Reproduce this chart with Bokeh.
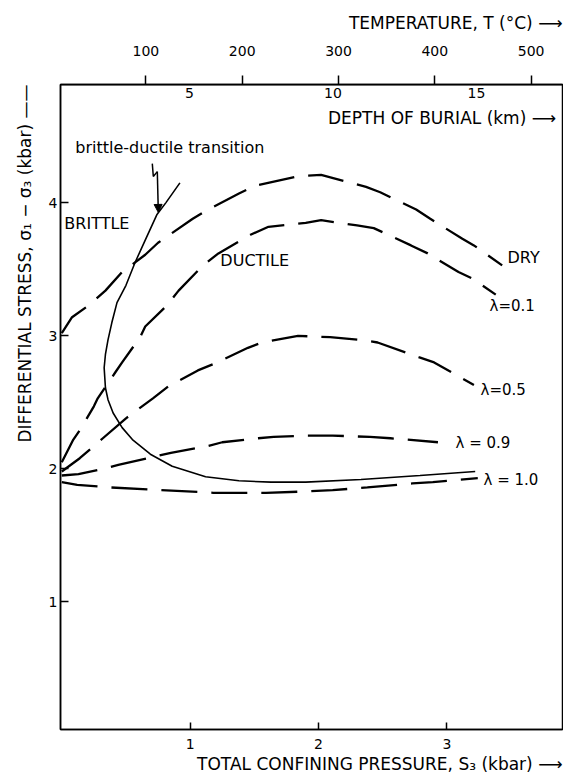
from bokeh.plotting import figure
from bokeh.models import (Range1d, LinearAxis, FixedTicker, Arrow, NormalHead,
                          Label, Title)
from bokeh.embed import file_html
from bokeh.resources import INLINE
from bokeh.core.properties import value

FONT = "DejaVu Sans"

# ---------------- data ----------------
pressure_ticks = [1, 2, 3]
stress_ticks = [1, 2, 3, 4]
temp_ticks = [100, 200, 300, 400, 500]
depth_ticks = [5, 10, 15]

dry_x = [0.0, 0.08, 0.21, 0.34, 0.47, 0.65, 0.75, 1.02, 1.12, 1.38, 1.51, 1.84, 2.02,
         2.37, 2.48, 2.76, 2.87, 3.12, 3.21, 3.43]
dry_y = [3.02, 3.14, 3.23, 3.34, 3.48, 3.61, 3.70, 3.88, 3.94, 4.07, 4.13, 4.20, 4.21,
         4.12, 4.08, 3.95, 3.88, 3.73, 3.68, 3.53]

l01_x = [0.0, 0.09, 0.14, 0.25, 0.28, 0.42, 0.47, 0.61, 0.65, 0.81, 0.91, 1.10, 1.22,
         1.47, 1.61, 1.90, 2.02, 2.30, 2.43, 2.72, 2.85, 3.09, 3.20, 3.38]
l01_y = [2.05, 2.22, 2.29, 2.47, 2.53, 2.73, 2.80, 2.99, 3.07, 3.22, 3.34, 3.53, 3.62,
         3.76, 3.82, 3.85, 3.87, 3.83, 3.81, 3.68, 3.62, 3.48, 3.43, 3.31]

l05_x = [0.0, 0.14, 0.32, 0.50, 0.71, 0.83, 1.06, 1.21, 1.45, 1.56, 1.84, 2.09, 2.33,
         2.46, 2.78, 2.90, 3.21]
l05_y = [1.98, 2.08, 2.23, 2.38, 2.53, 2.62, 2.74, 2.80, 2.91, 2.95, 3.00, 2.99, 2.97,
         2.95, 2.84, 2.80, 2.63]

l09_x = [0.0, 0.13, 0.32, 0.44, 0.67, 0.85, 1.13, 1.25, 1.53, 1.65, 1.90, 2.11, 2.40,
         2.56, 2.93]
l09_y = [1.95, 1.96, 2.00, 2.03, 2.08, 2.12, 2.17, 2.20, 2.23, 2.24, 2.25, 2.25, 2.24,
         2.23, 2.20]

l10_x = [0.0, 0.12, 0.38, 0.77, 1.18, 1.59, 1.90, 2.11, 2.38, 2.73, 2.89, 3.24]
l10_y = [1.90, 1.88, 1.86, 1.84, 1.82, 1.82, 1.83, 1.84, 1.86, 1.89, 1.90, 1.93]

trans_x = [0.92, 0.81, 0.74, 0.65, 0.57, 0.50, 0.43, 0.39, 0.36, 0.34, 0.33, 0.34, 0.36,
           0.40, 0.47, 0.55, 0.69, 0.86, 1.12, 1.38, 1.63, 1.90, 2.33, 2.79, 3.22]
trans_y = [4.15, 4.00, 3.91, 3.72, 3.55, 3.38, 3.25, 3.10, 2.97, 2.86, 2.76, 2.61, 2.52,
           2.42, 2.31, 2.22, 2.11, 2.02, 1.94, 1.91, 1.90, 1.90, 1.92, 1.95, 1.98]

# zig-zag pointer of the "brittle-ductile transition" label
zig_x = [0.705, 0.713, 0.744]
zig_y = [4.295, 4.198, 4.235]
arrow_end = (0.752, 3.928)

region_labels = ["BRITTLE", "DUCTILE", "DRY"]
region_x = [0.02, 1.235, 3.472]
region_y = [3.846, 3.568, 3.591]

lambda_labels = ["λ=0.1", "λ=0.5", "λ = 0.9", "λ = 1.0"]
lambda_x = [3.332, 3.262, 3.067, 3.285]
lambda_y = [3.223, 2.594, 2.196, 1.919]

note_label = ["brittle-ductile transition"]
note_x = [0.105]
note_y = [4.415]

# axis titles
title_temp = "TEMPERATURE, T (°C) ⟶"
title_depth = "DEPTH OF BURIAL (km) ⟶"
title_press = "TOTAL CONFINING PRESSURE, S₃ (kbar) ⟶"
title_stress = "DIFFERENTIAL STRESS, σ₁ − σ₃ (kbar) ——"

# ---------------- figure ----------------
X0, X1, Y0, Y1 = -0.01, 3.90, 0.04, 4.89
p = figure(width=563, height=773, output_backend="svg", toolbar_location=None,
           x_range=Range1d(X0, X1), y_range=Range1d(Y0, Y1),
           min_border_left=60, min_border_right=1, min_border_top=84,
           min_border_bottom=44, background_fill_color="white",
           border_fill_color="white")
p.extra_x_ranges = {"temp": Range1d(11.3, 532.6), "depth": Range1d(0.51, 18.0)}
p.grid.visible = False
p.outline_line_color = "black"
p.outline_line_width = 1.5


def style(ax, tick_in, tick_out, standoff):
    ax.major_label_text_font = FONT
    ax.major_label_text_font_size = "14px"
    ax.major_label_text_color = "black"
    ax.major_label_standoff = standoff
    ax.major_tick_in = tick_in
    ax.major_tick_out = tick_out
    ax.minor_tick_in = 0
    ax.minor_tick_out = 0
    ax.axis_line_color = "black"
    ax.axis_line_width = 1.5
    ax.major_tick_line_width = 1.5
    ax.major_tick_line_color = "black"


xa = p.xaxis[0]
xa.ticker = FixedTicker(ticks=pressure_ticks)
style(xa, 7, 0, 9)

ya = p.yaxis[0]
ya.ticker = FixedTicker(ticks=stress_ticks)
style(ya, 8, 0, 3)

ta = LinearAxis(x_range_name="temp", ticker=FixedTicker(ticks=temp_ticks))
style(ta, 0, 9, 20)
p.add_layout(ta, "above")

da = LinearAxis(x_range_name="depth", ticker=FixedTicker(ticks=depth_ticks),
                fixed_location=Y1)
style(da, 8, 0, 3)
p.add_layout(da, "below")


def axis_title(text, standoff):
    return Title(text=text, align="right", text_font=FONT, text_font_size="17px",
                 text_font_style="normal", text_color="black", standoff=standoff)


p.add_layout(axis_title(title_temp, 19), "above")
p.add_layout(axis_title(title_press, 0), "below")
p.add_layout(axis_title(title_stress, 22), "left")

# depth title sits inside the frame, under the depth scale
p.add_layout(Label(x=3.85, y=4.64, text=title_depth, text_font=FONT,
                   text_font_size="17px", text_color="black",
                   text_baseline="middle", text_align="right"))

# ---------------- curves ----------------
dash = "36 14"
for xs, ys in [(dry_x, dry_y), (l01_x, l01_y), (l05_x, l05_y), (l09_x, l09_y),
               (l10_x, l10_y)]:
    p.line(xs, ys, line_color="black", line_width=2.3, line_dash=dash,
           line_cap="butt")

p.line(trans_x, trans_y, line_color="black", line_width=1.6)

p.line(zig_x, zig_y, line_color="black", line_width=1.5)
p.add_layout(Arrow(end=NormalHead(size=8, fill_color="black", line_color="black"),
                   x_start=zig_x[-1], y_start=zig_y[-1],
                   x_end=arrow_end[0], y_end=arrow_end[1],
                   line_color="black", line_width=1.5))

# ---------------- text ----------------
p.text(x=region_x, y=region_y, text=region_labels, text_font=value(FONT),
       text_font_size="16px", text_baseline="middle", text_align="left",
       text_color="black")
p.text(x=lambda_x, y=lambda_y, text=lambda_labels, text_font=value(FONT),
       text_font_size="15px", text_baseline="middle", text_align="left",
       text_color="black")
p.text(x=note_x, y=note_y, text=note_label, text_font=value(FONT),
       text_font_size="16px", text_baseline="middle", text_align="left",
       text_color="black")

open("out.html", "w").write(file_html(p, INLINE))
